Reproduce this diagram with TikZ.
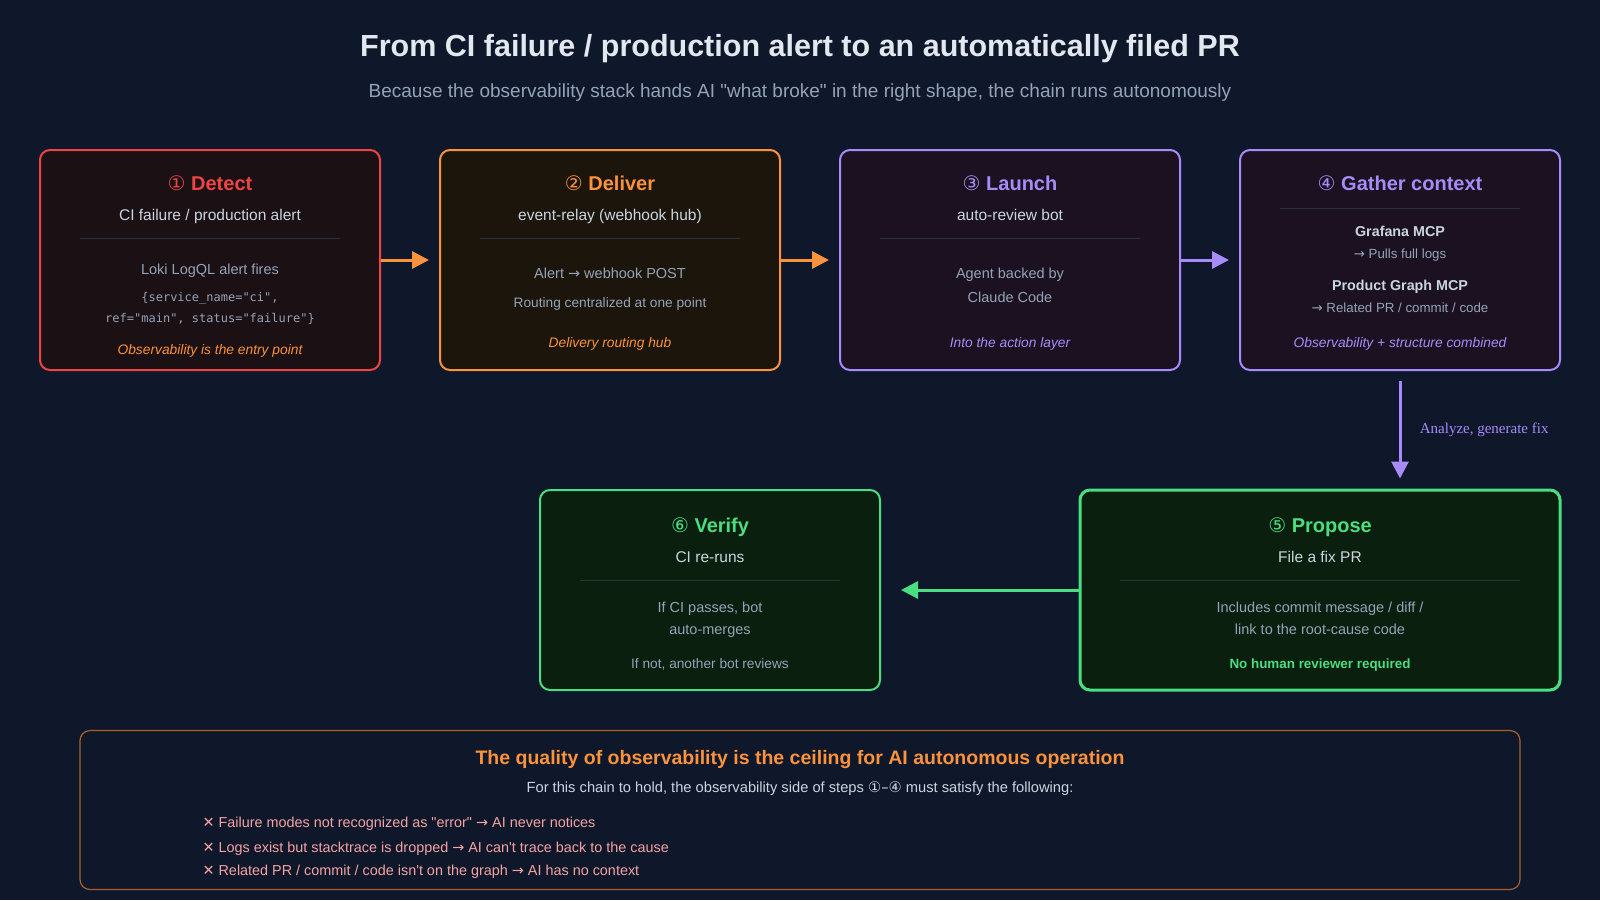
\documentclass[tikz,border=0pt]{standalone}
\usepackage{fontspec}
\setmainfont{Liberation Sans}
\newfontfamily\codefont{DejaVu Sans Mono}
\newfontfamily\symfont{DejaVu Sans}
\newfontfamily\labelfont{Liberation Serif}
\usetikzlibrary{arrows.meta, positioning}
\definecolor{mBg}{HTML}{0F172A}
\definecolor{mRed}{HTML}{EF4444}
\definecolor{mRedFill}{HTML}{1B1013}
\definecolor{mOrange}{HTML}{FB923C}
\definecolor{mOrangeFill}{HTML}{1C150C}
\definecolor{mPurple}{HTML}{A78BFA}
\definecolor{mPurpleFill}{HTML}{1B1120}
\definecolor{mGreen}{HTML}{4ADE80}
\definecolor{mGreenFill}{HTML}{0A1F0E}
\definecolor{mWhite}{HTML}{E2E8F0}
\definecolor{mLight}{HTML}{CBD5E1}
\definecolor{mGray}{HTML}{94A3B8}
\definecolor{mRule}{HTML}{2A303B}
\definecolor{mNote}{HTML}{A8612C}
\definecolor{mPink}{HTML}{F4A3A3}
\newcommand{\fs}[1]{\fontsize{#1}{#1}\selectfont}
\newcommand{\ra}{{\symfont →}}
\newcommand{\dq}{\textquotedbl}

\begin{document}
\begin{tikzpicture}[x=1pt, y=-1pt,
    stepbox/.style={draw, rounded corners=10pt, line width=2pt, inner sep=0pt,
      minimum width=340pt, minimum height=220pt},
    flow/.style={-{Triangle[length=17pt, width=17pt]}, line width=3pt},
    line/.style={text height=1em, text depth=0pt},
    head/.style={font=\bfseries\fs{20}},
    sub/.style={line, text=mLight, font=\fs{15.5}},
    body/.style={line, text=mGray, font=\fs{14.5}},
    note/.style={line, font=\itshape\fs{13.8}},
    sep/.style={mRule, line width=1pt}]
  \useasboundingbox[fill=mBg] (0,0) rectangle (1600,900);

  % title
  \node[text=mWhite, font=\bfseries\fs{30.5}] (title) at (800,49)
    {From CI failure / production alert to an automatically filed PR};
  \node[text=mGray, font=\fs{19}] (subtitle) at (800,93)
    {Because the observability stack hands AI \dq what broke\dq{} in the right shape, the chain runs autonomously};

  % top row
  \node[stepbox, draw=mRed, fill=mRedFill] (detect) at (210,260) {};
  \node[stepbox, draw=mOrange, fill=mOrangeFill] (deliver) at (610,260) {};
  \node[stepbox, draw=mPurple, fill=mPurpleFill] (launch) at (1010,260) {};
  \node[stepbox, draw=mPurple, fill=mPurpleFill, minimum width=320pt] (gather) at (1400,260) {};

  % bottom row
  \node[stepbox, draw=mGreen, fill=mGreenFill, line width=3pt,
    minimum width=480pt, minimum height=200pt] (propose) at (1320,590) {};
  \node[stepbox, draw=mGreen, fill=mGreenFill, minimum height=200pt] (verify) at (710,590) {};

  % separators
  \foreach \cx in {210,610,1010} \draw[sep] (\cx-130,238) -- (\cx+130,238);
  \draw[sep] (1280,208) -- (1520,208);
  \draw[sep] (580,580) -- (840,580);
  \draw[sep] (1120,580) -- (1520,580);

  % 1 detect
  \node[head, text=mRed] (detectH) at (210,183) {{\mdseries\symfont ①} Detect};
  \node[sub] (detectS) at (210,215) {CI failure / production alert};
  \node[body] (detectB) at (210,269) {Loki LogQL alert fires};
  \node[text=mGray, font=\codefont\fs{12}, align=center] (detectC) at (210,308)
    {\{service\_name=\dq ci\dq,\\[8pt]ref=\dq main\dq, status=\dq failure\dq\}};
  \node[note, text=mOrange] (detectN) at (210,349) {Observability is the entry point};

  % 2 deliver
  \node[head, text=mOrange] (deliverH) at (610,183) {{\mdseries\symfont ②} Deliver};
  \node[sub] (deliverS) at (610,215) {event-relay (webhook hub)};
  \node[body] (deliverB) at (610,273) {Alert \ra\ webhook POST};
  \node[body, font=\fs{13.7}] (deliverC) at (610,302) {Routing centralized at one point};
  \node[note, text=mOrange] (deliverN) at (610,342) {Delivery routing hub};

  % 3 launch
  \node[head, text=mPurple] (launchH) at (1010,183) {{\mdseries\symfont ③} Launch};
  \node[sub] (launchS) at (1010,215) {auto-review bot};
  \node[body] (launchB) at (1010,273) {Agent backed by};
  \node[body] (launchC) at (1010,297) {Claude Code};
  \node[note, text=mPurple] (launchN) at (1010,342) {Into the action layer};

  % 4 gather context
  \node[head, text=mPurple] (gatherH) at (1400,183) {{\mdseries\symfont ④} Gather context};
  \node[line, text=mLight, font=\bfseries\fs{14.3}] (gatherA) at (1400,231) {Grafana MCP};
  \node[body, font=\fs{13.3}] (gatherB) at (1400,253) {\ra\ Pulls full logs};
  \node[line, text=mLight, font=\bfseries\fs{14.3}] (gatherC) at (1400,285) {Product Graph MCP};
  \node[body, font=\fs{13.3}] (gatherD) at (1400,307) {\ra\ Related PR / commit / code};
  \node[note, text=mPurple] (gatherN) at (1400,342) {Observability + structure combined};

  % 5 propose
  \node[head, text=mGreen] (proposeH) at (1320,527) {{\mdseries\symfont ⑤} Propose};
  \node[sub] (proposeS) at (1320,557) {File a fix PR};
  \node[body] (proposeB) at (1320,607) {Includes commit message / diff /};
  \node[body] (proposeC) at (1320,629) {link to the root-cause code};
  \node[line, text=mGreen, font=\bfseries\fs{13.4}] (proposeN) at (1320,663) {No human reviewer required};

  % 6 verify
  \node[head, text=mGreen] (verifyH) at (710,527) {{\mdseries\symfont ⑥} Verify};
  \node[sub] (verifyS) at (710,557) {CI re-runs};
  \node[body] (verifyB) at (710,607) {If CI passes, bot};
  \node[body] (verifyC) at (710,629) {auto-merges};
  \node[body, font=\fs{13.7}] (verifyN) at (710,663) {If not, another bot reviews};

  % connectors
  \draw[flow, mOrange, shorten >=10pt] (detect) -- (deliver);
  \draw[flow, mOrange, shorten >=10pt] (deliver) -- (launch);
  \draw[flow, mPurple, shorten >=10pt] (launch) -- (gather);
  \draw[flow, mPurple, shorten <=10pt, shorten >=10pt] (gather.south) -- (gather.south |- propose.north)
    node[midway, right=15pt, text=mPurple, font=\labelfont\fs{15}] (fixLabel) {Analyze, generate fix};
  \draw[flow, mGreen, shorten >=20pt] (propose) -- (verify);

  % takeaway box
  \node[draw=mNote, line width=1.2pt, rounded corners=10pt, minimum width=1440pt,
    minimum height=159pt] (ceiling) at (800,810) {};
  \node[text=mOrange, font=\bfseries\fs{19.5}] (ceilingH) at (800,759)
    {The quality of observability is the ceiling for AI autonomous operation};
  \node[text=mLight, font=\fs{14.7}] (ceilingS) at (800,789)
    {For this chain to hold, the observability side of steps {\symfont ①–④} must satisfy the following:};
  \foreach \y/\t in {822/{Failure modes not recognized as \dq error\dq{} \ra\ AI never notices},
      847/{Logs exist but stacktrace is dropped \ra\ AI can\textquotesingle t trace back to the cause},
      870/{Related PR / commit / code isn\textquotesingle t on the graph \ra\ AI has no context}}
    \node[anchor=west, line, text=mPink, font=\fs{14.4}] (miss\y) at (199,\y) {{\symfont ✕} \t};
\end{tikzpicture}
\end{document}
